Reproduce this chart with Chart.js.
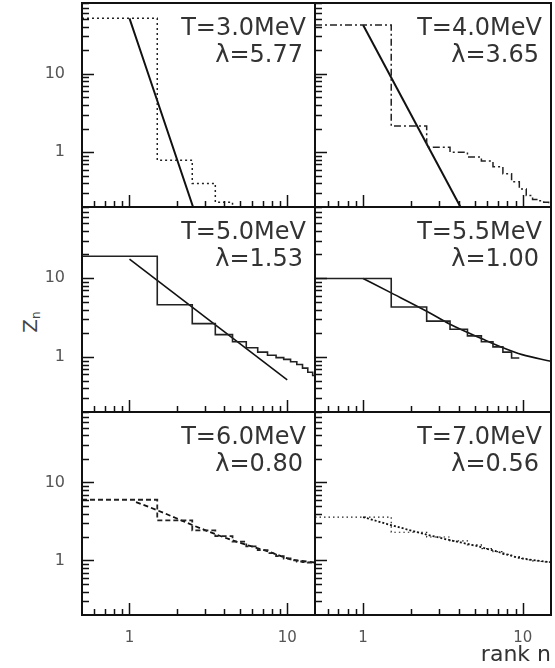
<!DOCTYPE html>
<html>
<head>
<meta charset="utf-8">
<script src="https://cdn.jsdelivr.net/npm/chart.js@4.4.0/dist/chart.umd.min.js"></script>
<style>
  html, body { margin: 0; padding: 0; background: #fff; }
  #wrap { position: relative; width: 555px; height: 668px; overflow: hidden; font-family: "DejaVu Sans", sans-serif; }
  #wrap canvas { position: absolute; }
  .lbl { position: absolute; text-align: right; font-size: 24px; line-height: 27px; color: #333; white-space: nowrap; }
  .lbl span { margin-right: 3px; }
  #zlab { position: absolute; left: 8px; top: 308px; width: 44px; height: 28px; line-height: 28px; text-align: center;
          font-size: 20px; color: #444; transform: rotate(-90deg); }
  #zlab sub { font-size: 12px; vertical-align: -3px; }
</style>
</head>
<body>
<div id="wrap">
  <div id="zlab">Z<sub>n</sub></div>
</div>
<script>
// panel labels
const temps = ['3.0', '4.0', '5.0', '5.5', '6.0', '7.0'];
const lambdas = ['5.77', '3.65', '1.53', '1.00', '0.80', '0.56'];

// tick values
const xTickLabels = [1, 10];
const yTickLabels = [1, 10];
const xMinor = [0.6, 0.7, 0.8, 0.9, 2, 3, 4, 5, 6, 7, 8, 9];
const yMinor = [0.3, 0.4, 0.5, 0.6, 0.7, 0.8, 0.9, 2, 3, 4, 5, 6, 7, 8, 9, 20, 30, 40, 50, 60, 70, 80];

// <Z_n> for rank n = 1, 2, 3 ...
const z30 = [51, 0.79, 0.40, 0.23, 0.12];
const z40 = [42, 2.16, 1.16, 1.0, 0.87, 0.77, 0.65, 0.53, 0.42, 0.34, 0.28, 0.25, 0.24, 0.23, 0.22];
const z50 = [19, 4.6, 2.65, 1.92, 1.56, 1.31, 1.15, 1.05, 0.98, 0.93, 0.87, 0.80, 0.72, 0.64, 0.58];
const z55 = [9.9, 4.3, 2.85, 2.25, 1.85, 1.56, 1.34, 1.15, 0.97];
const z60 = [6.0, 3.26, 2.43, 2.05, 1.74, 1.52, 1.36, 1.24, 1.14, 1.06, 1.0, 0.97, 0.95, 0.94];
const z70 = [3.6, 2.3, 2.0, 1.78, 1.58, 1.42, 1.3, 1.2, 1.12, 1.06, 1.02, 0.99, 0.97, 0.96, 0.95];

// fitted lines, [n, Z]
const fit30 = [[1, 51], [2.53, 0.2]];
const fit40 = [[1, 42], [4.07, 0.2]];
const fit50 = [[1, 17.4], [10, 0.51]];
const fit55 = [[1, 9.9], [1.5, 6.5], [2.5, 3.8], [3.5, 2.6], [5.7, 1.66], [7.3, 1.34], [9.9, 1.07], [15, 0.88]];
const fit60 = [[1.1, 5.6], [1.5, 4.4], [2.5, 2.85], [3.56, 2.15], [4.76, 1.74], [6.05, 1.5], [7.7, 1.29], [10.3, 1.05], [15, 0.94]];
const fit70 = [[1, 3.6], [1.4, 2.95], [2.5, 2.15], [3.5, 1.82], [4.95, 1.56], [6.9, 1.3], [9.7, 1.07], [15, 0.95]];

const colX = [82, 315], colW = [233, 236];
const rowY = [3, 207, 412], rowH = [204, 205, 203];

const panels = [
  { z: z30, fit: fit30, histDash: [2, 3], histW: 1.5, fitDash: [], fitW: 2 },
  { z: z40, fit: fit40, histDash: [7, 3, 2, 3], histW: 1.5, fitDash: [], fitW: 2 },
  { z: z50, fit: fit50, histDash: [], histW: 1.6, fitDash: [], fitW: 1.6 },
  { z: z55, fit: fit55, histDash: [], histW: 1.6, fitDash: [], fitW: 1.6 },
  { z: z60, fit: fit60, histDash: [5, 3], histW: 1.8, fitDash: [5, 3], fitW: 1.8 },
  { z: z70, fit: fit70, histDash: [1.5, 3], histW: 1.2, fitDash: [2, 2], fitW: 1.8 },
];

const framePlugin = {
  id: 'frame',
  afterDatasetsDraw(chart) {
    const { ctx, chartArea: a } = chart;
    const x = chart.scales.x, y = chart.scales.y;
    ctx.save();
    ctx.strokeStyle = '#111';
    ctx.lineWidth = 1.5;
    ctx.beginPath();
    xTickLabels.concat(xMinor).forEach(v => {
      const px = Math.round(x.getPixelForValue(v)) + 0.5;
      const len = xTickLabels.includes(v) ? 12 : 6;
      ctx.moveTo(px, a.bottom);
      ctx.lineTo(px, a.bottom - len);
    });
    yTickLabels.concat(yMinor).forEach(v => {
      const py = Math.round(y.getPixelForValue(v)) + 0.5;
      const len = yTickLabels.includes(v) ? 12 : 7;
      ctx.moveTo(a.left, py);
      ctx.lineTo(a.left + len, py);
    });
    ctx.stroke();
    ctx.lineWidth = 2;
    ctx.strokeRect(a.left, a.top, a.right - a.left, a.bottom - a.top);
    ctx.restore();
  }
};

const wrap = document.getElementById('wrap');

panels.forEach((p, i) => {
  const col = i % 2, row = Math.floor(i / 2);
  const showY = col === 0, showX = row === 2;
  const padL = showY ? 82 : 2, padB = showX ? 53 : 2;
  const cv = document.createElement('canvas');
  cv.width = padL + colW[col] + 2;
  cv.height = 2 + rowH[row] + padB;
  cv.style.left = (colX[col] - padL) + 'px';
  cv.style.top = (rowY[row] - 2) + 'px';
  wrap.appendChild(cv);

  const hist = p.z.map((v, k) => ({ x: k + 0.5, y: v }));
  hist.push({ x: p.z.length + 0.5, y: p.z[p.z.length - 1] });

  new Chart(cv.getContext('2d'), {
    type: 'line',
    data: {
      datasets: [
        {
          data: hist, stepped: 'before', borderColor: '#222', borderWidth: p.histW,
          borderDash: p.histDash, pointRadius: 0, fill: false, clip: 0
        },
        {
          data: p.fit.map(([n, v]) => ({ x: n, y: v })), borderColor: '#111', borderWidth: p.fitW,
          borderDash: p.fitDash, pointRadius: 0, fill: false, cubicInterpolationMode: 'monotone', clip: 0
        }
      ]
    },
    options: {
      responsive: false,
      animation: false,
      devicePixelRatio: 1,
      layout: { padding: { top: 2, right: 2, left: showY ? 0 : 2, bottom: showX ? 0 : 2 } },
      plugins: { legend: { display: false }, tooltip: { enabled: false } },
      scales: {
        x: {
          type: 'logarithmic', min: 0.5, max: 15, display: showX,
          grid: { display: false, drawTicks: false }, border: { display: false },
          ticks: {
            font: { family: 'DejaVu Sans', size: 15 }, color: '#555', padding: 14,
            maxRotation: 0, autoSkip: false, callback: v => String(v)
          },
          title: {
            display: i === 5, text: 'rank n', align: 'end', color: '#333',
            font: { family: 'DejaVu Sans', size: 22 }, padding: { top: 0, bottom: 0 }
          },
          afterBuildTicks: s => { s.ticks = xTickLabels.map(v => ({ value: v })); },
          afterFit: s => { s.height = showX ? 53 : 0; s.paddingLeft = 0; s.paddingRight = 0; }
        },
        y: {
          type: 'logarithmic', min: 0.2, max: 80, display: showY,
          grid: { display: false, drawTicks: false }, border: { display: false },
          ticks: {
            font: { family: 'DejaVu Sans', size: 16 }, color: '#555', padding: 17,
            autoSkip: false, callback: v => String(v)
          },
          afterBuildTicks: s => { s.ticks = yTickLabels.map(v => ({ value: v })); },
          afterFit: s => { s.width = showY ? 82 : 0; s.paddingTop = 0; s.paddingBottom = 0; }
        }
      }
    },
    plugins: [framePlugin]
  });

  const lbl = document.createElement('div');
  lbl.className = 'lbl';
  lbl.style.right = (555 - colX[col] - colW[col] + 9) + 'px';
  lbl.style.top = (rowY[row] + 11) + 'px';
  lbl.innerHTML = 'T=' + temps[i] + 'MeV<br><span>λ=' + lambdas[i] + '</span>';
  wrap.appendChild(lbl);
});
</script>
</body>
</html>
